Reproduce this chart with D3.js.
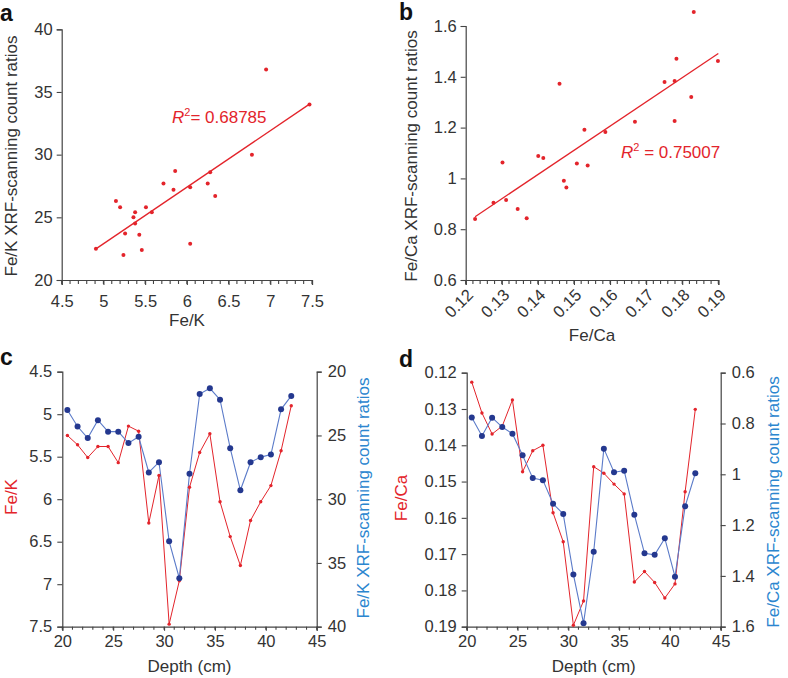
<!DOCTYPE html>
<html>
<head>
<meta charset="utf-8">
<script src="https://cdn.jsdelivr.net/npm/d3@7"></script>
<style>
  html, body { margin: 0; padding: 0; background: #fff; }
  svg { display: block; font-family: "Liberation Sans", Arial, Helvetica, sans-serif; }
</style>
</head>
<body>
<svg id="chart" width="788" height="678"></svg>
<script>
// ---------------- DATA ----------------
// Panel a: Fe/K (x) vs Fe/K XRF-scanning count ratios (y)
const scatterA_x = [4.91, 5.15, 5.20, 5.26, 5.24, 5.36, 5.38, 5.38, 5.43, 5.46, 5.51, 5.58, 5.72, 5.84, 5.86, 6.04, 6.04, 6.25, 6.28, 6.34, 6.78, 6.95, 7.47];
const scatterA_y = [22.5, 26.3, 25.8, 23.7, 22.0, 25.0, 25.4, 24.5, 23.6, 22.4, 25.8, 25.4, 27.7, 27.2, 28.7, 27.4, 22.9, 27.7, 28.6, 26.7, 30.0, 36.8, 34.0];
const fitA = { slope: 4.51, intercept: 0.34, r2: "0.68785" };

// Panel b: Fe/Ca (x) vs Fe/Ca XRF-scanning count ratios (y)
const scatterB_x = [0.1226, 0.1277, 0.1302, 0.1312, 0.1344, 0.1369, 0.1401, 0.1415, 0.1460, 0.1472, 0.1479, 0.1508, 0.1529, 0.1538, 0.1587, 0.1669, 0.1751, 0.1779, 0.1779, 0.1784, 0.1825, 0.1832, 0.1899];
const scatterB_y = [0.840, 0.904, 1.063, 0.915, 0.880, 0.843, 1.088, 1.080, 1.373, 0.991, 0.964, 1.059, 1.192, 1.051, 1.183, 1.223, 1.380, 1.226, 1.383, 1.471, 1.320, 1.655, 1.462];
const fitB = { slope: 9.54, intercept: -0.3206, r2: "0.75007" };

// Panels c & d: depth profiles
const depth = [20.5, 21.5, 22.5, 23.5, 24.5, 25.5, 26.5, 27.5, 28.5, 29.5, 30.5, 31.5, 32.5, 33.5, 34.5, 35.5, 36.5, 37.5, 38.5, 39.5, 40.5, 41.5, 42.5];
const feK      = [5.25, 5.36, 5.51, 5.38, 5.38, 5.57, 5.14, 5.20, 6.28, 5.72, 7.47, 6.96, 5.86, 5.45, 5.23, 6.03, 6.44, 6.78, 6.25, 6.03, 5.84, 5.43, 4.90];
const feK_xrf  = [23.0, 24.3, 25.2, 23.8, 24.7, 24.7, 25.6, 25.1, 27.9, 27.1, 33.3, 36.2, 28.0, 21.75, 21.3, 22.2, 26.0, 29.3, 27.1, 26.7, 26.5, 22.95, 21.9];
const feCa     = [0.1226, 0.1311, 0.1369, 0.1347, 0.1275, 0.1473, 0.1415, 0.1400, 0.1586, 0.1666, 0.1896, 0.1829, 0.1459, 0.1477, 0.1507, 0.1534, 0.1777, 0.1748, 0.1778, 0.1821, 0.1782, 0.1528, 0.1301];
const feCa_xrf = [0.776, 0.849, 0.777, 0.814, 0.840, 0.925, 1.015, 1.023, 1.116, 1.156, 1.394, 1.586, 1.305, 0.899, 0.992, 0.986, 1.159, 1.311, 1.317, 1.252, 1.403, 1.126, 0.996];

// Tick values
const ticksA_x = [4.5, 5, 5.5, 6, 6.5, 7, 7.5];
const ticksA_y = [20, 25, 30, 35, 40];
const ticksB_x = [0.12, 0.13, 0.14, 0.15, 0.16, 0.17, 0.18, 0.19];
const ticksB_y = [0.6, 0.8, 1.0, 1.2, 1.4, 1.6];
const ticksDepth = [20, 25, 30, 35, 40, 45];
const ticksC_left = [4.5, 5, 5.5, 6, 6.5, 7, 7.5];
const ticksC_right = [20, 25, 30, 35, 40];
const ticksD_left = [0.12, 0.13, 0.14, 0.15, 0.16, 0.17, 0.18, 0.19];
const ticksD_right = [0.6, 0.8, 1.0, 1.2, 1.4, 1.6];

// ---------------- STYLE ----------------
const RED = "#e3242b";
const BLUE_LINE = "#5b7bc9";
const BLUE_DOT = "#24388f";
const BLUE_TEXT = "#2b86cf";
const AXIS = "#444";
const TEXT = "#333";
const TICK_FS = "16.5px";
const TITLE_FS = "17px";

const svg = d3.select("#chart");
const fmt = d => (d === 1 ? "1" : String(d));

function styleAxis(g) {
  g.selectAll(".domain").attr("stroke", AXIS).attr("stroke-width", 1.2);
  g.selectAll(".tick line").attr("stroke", AXIS).attr("stroke-width", 1.1);
  g.selectAll(".tick text").attr("fill", TEXT).style("font-size", TICK_FS)
    .style("font-family", "'Liberation Sans', Arial, sans-serif");
}

function minorTicks(g, scale, values, y0, len) {
  g.selectAll(null).data(values).enter().append("line")
    .attr("x1", d => scale(d)).attr("x2", d => scale(d))
    .attr("y1", y0).attr("y2", y0 + len)
    .attr("stroke", AXIS).attr("stroke-width", 1.1);
}

function rangeStep(a, b, s) {
  const out = [];
  const n = Math.round((b - a) / s);
  for (let i = 0; i <= n; i++) out.push(+(a + i * s).toFixed(6));
  return out;
}

function panelLabel(txt, x, y) {
  svg.append("text").attr("x", x).attr("y", y).text(txt)
    .attr("font-weight", "bold").style("font-size", "23px").attr("fill", "#111");
}

function vTitle(txt, x, y, color) {
  svg.append("text").attr("transform", `translate(${x},${y}) rotate(-90)`)
    .attr("text-anchor", "middle").style("font-size", TITLE_FS).attr("fill", color).text(txt);
}

function hTitle(txt, x, y, color) {
  svg.append("text").attr("x", x).attr("y", y)
    .attr("text-anchor", "middle").style("font-size", TITLE_FS).attr("fill", color).text(txt);
}

function r2Label(x, y, val) {
  const t = svg.append("text").attr("x", x).attr("y", y).attr("fill", RED).style("font-size", "17px");
  t.append("tspan").attr("font-style", "italic").text("R");
  t.append("tspan").attr("dy", -7).style("font-size", "11px").text("2");
  t.append("tspan").attr("dy", 7).text(val);
}

// ---------------- PANEL A ----------------
{
  const x = d3.scaleLinear().domain([4.5, 7.5]).range([61.7, 312]);
  const y = d3.scaleLinear().domain([20, 40]).range([280, 29.3]);

  const gx = svg.append("g").attr("transform", "translate(0,280)")
    .call(d3.axisBottom(x).tickValues(ticksA_x).tickSize(5).tickPadding(10).tickFormat(fmt));
  styleAxis(gx);
  minorTicks(gx, x, rangeStep(4.5, 7.5, 0.1), 0, 4);
  const gy = svg.append("g").attr("transform", "translate(61.7,0)")
    .call(d3.axisLeft(y).tickValues(ticksA_y).tickSize(5).tickPadding(4).tickFormat(fmt));
  styleAxis(gy);

  const ex = d3.extent(scatterA_x);
  svg.append("line")
    .attr("x1", x(ex[0])).attr("y1", y(fitA.slope * ex[0] + fitA.intercept))
    .attr("x2", x(ex[1])).attr("y2", y(fitA.slope * ex[1] + fitA.intercept))
    .attr("stroke", RED).attr("stroke-width", 1.3);

  svg.append("g").selectAll("circle").data(scatterA_x).enter().append("circle")
    .attr("cx", d => x(d)).attr("cy", (d, i) => y(scatterA_y[i])).attr("r", 2).attr("fill", RED);

  r2Label(172, 123, "= " + fitA.r2);
  panelLabel("a", 0, 21);
  vTitle("Fe/K XRF-scanning count ratios", 17, 156, TEXT);
  hTitle("Fe/K", 187, 326, TEXT);
}

// ---------------- PANEL B ----------------
{
  const x = d3.scaleLinear().domain([0.12, 0.19]).range([465.7, 718.3]);
  const y = d3.scaleLinear().domain([0.6, 1.6]).range([280, 26]);

  const gx = svg.append("g").attr("transform", "translate(0,280)")
    .call(d3.axisBottom(x).tickValues(ticksB_x).tickSize(5).tickPadding(6).tickFormat(d3.format(".2f")));
  styleAxis(gx);
  minorTicks(gx, x, rangeStep(0.12, 0.19, 0.002), 0, 4);
  gx.selectAll(".tick text")
    .attr("text-anchor", "end")
    .attr("x", 0).attr("y", 0)
    .attr("dy", "0.35em")
    .attr("transform", "translate(4,12) rotate(-45)");

  const gy = svg.append("g").attr("transform", "translate(465.7,0)")
    .call(d3.axisLeft(y).tickValues(ticksB_y).tickSize(5).tickPadding(4).tickFormat(d => d === 1 ? "1" : d3.format(".1f")(d)));
  styleAxis(gy);

  const ex = d3.extent(scatterB_x);
  svg.append("line")
    .attr("x1", x(ex[0])).attr("y1", y(fitB.slope * ex[0] + fitB.intercept))
    .attr("x2", x(0.19)).attr("y2", y(fitB.slope * 0.19 + fitB.intercept))
    .attr("stroke", RED).attr("stroke-width", 1.3);

  svg.append("g").selectAll("circle").data(scatterB_x).enter().append("circle")
    .attr("cx", d => x(d)).attr("cy", (d, i) => y(scatterB_y[i])).attr("r", 2).attr("fill", RED);

  r2Label(621, 158, " = " + fitB.r2);
  panelLabel("b", 399, 20);
  vTitle("Fe/Ca XRF-scanning count ratios", 417, 156, TEXT);
  hTitle("Fe/Ca", 592, 341, TEXT);
}

// ---------------- PANELS C & D ----------------
function profilePanel(o) {
  const x = d3.scaleLinear().domain([20, 45]).range([o.x0, o.x1]);
  const yL = d3.scaleLinear().domain(o.leftDomain).range([o.y0, o.y1]);
  const yR = d3.scaleLinear().domain(o.rightDomain).range([o.y0, o.y1]);

  const gx = svg.append("g").attr("transform", `translate(0,${o.y1})`)
    .call(d3.axisBottom(x).tickValues(ticksDepth).tickSize(4).tickPadding(5));
  styleAxis(gx);
  minorTicks(gx, x, rangeStep(20, 45, 1), 0, 3);

  const gl = svg.append("g").attr("transform", `translate(${o.x0},0)`)
    .call(d3.axisLeft(yL).tickValues(o.leftTicks).tickSize(5).tickPadding(5).tickFormat(o.leftFmt));
  styleAxis(gl);
  const gr = svg.append("g").attr("transform", `translate(${o.x1},0)`)
    .call(d3.axisRight(yR).tickValues(o.rightTicks).tickSize(5).tickPadding(6).tickFormat(o.rightFmt));
  styleAxis(gr);

  const lineL = d3.line().x((d, i) => x(depth[i])).y(d => yL(d));
  const lineR = d3.line().x((d, i) => x(depth[i])).y(d => yR(d));

  svg.append("path").datum(o.left).attr("d", lineL).attr("fill", "none")
    .attr("stroke", RED).attr("stroke-width", 1);
  svg.append("path").datum(o.right).attr("d", lineR).attr("fill", "none")
    .attr("stroke", BLUE_LINE).attr("stroke-width", 1.1);

  svg.append("g").selectAll("circle").data(o.left).enter().append("circle")
    .attr("cx", (d, i) => x(depth[i])).attr("cy", d => yL(d)).attr("r", 1.7).attr("fill", RED);
  svg.append("g").selectAll("circle").data(o.right).enter().append("circle")
    .attr("cx", (d, i) => x(depth[i])).attr("cy", d => yR(d)).attr("r", 3).attr("fill", BLUE_DOT);

  hTitle("Depth (cm)", (o.x0 + o.x1) / 2, 672, TEXT);
}

profilePanel({
  x0: 62.3, x1: 316.7, y0: 371.7, y1: 626.7,
  leftDomain: [4.5, 7.5], rightDomain: [20, 40],
  leftTicks: ticksC_left, rightTicks: ticksC_right,
  leftFmt: fmt, rightFmt: fmt,
  left: feK, right: feK_xrf
});
panelLabel("c", 0, 365);
vTitle("Fe/K", 17, 497, RED);
vTitle("Fe/K XRF-scanning count ratios", 369, 498, BLUE_TEXT);

profilePanel({
  x0: 466.7, x1: 720.7, y0: 372.7, y1: 626.7,
  leftDomain: [0.12, 0.19], rightDomain: [0.6, 1.6],
  leftTicks: ticksD_left, rightTicks: ticksD_right,
  leftFmt: d3.format(".2f"), rightFmt: d => d === 1 ? "1" : d3.format(".1f")(d),
  left: feCa, right: feCa_xrf
});
panelLabel("d", 399, 367);
vTitle("Fe/Ca", 407, 498, RED);
vTitle("Fe/Ca XRF-scanning count ratios", 779, 502, BLUE_TEXT);
</script>
</body>
</html>
